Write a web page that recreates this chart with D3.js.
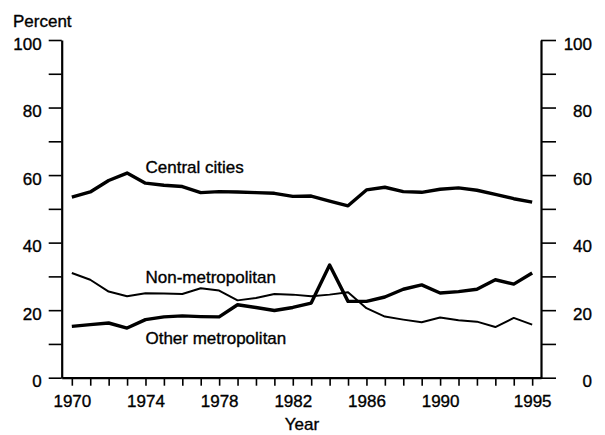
<!DOCTYPE html>
<html>
<head>
<meta charset="utf-8">
<script src="https://cdn.jsdelivr.net/npm/d3@7"></script>
<style>
    body { margin: 0; background: #fff; }
    svg text { font-family: "Liberation Sans", Arial, Helvetica, sans-serif; fill: #000; stroke: #000; stroke-width: 0.35px; }
</style>
</head>
<body>
<div id="chart"></div>
<script>
const years = d3.range(1970, 1996);
const centralCities = [53.5, 55, 58.4, 60.6, 57.6, 57, 56.6, 54.8, 55.1, 55, 54.8, 54.6, 53.7, 53.8,
    52.3, 50.9, 55.6, 56.4, 55.1, 54.9, 55.8, 56.2, 55.5, 54.3, 53, 52];
const nonMetropolitan = [31, 29, 25.5, 24.1, 25, 24.9, 24.8, 26.5, 25.8, 22.9, 23.6, 24.8, 24.6, 24.1,
    24.6, 25.3, 20.6, 18.1, 17.2, 16.4, 17.8, 17, 16.6, 15, 17.7, 15.7];
const otherMetropolitan = [15.2, 15.7, 16.2, 14.7, 17.2, 18, 18.3, 18.1, 18, 21.6, 20.8, 19.9, 20.8, 22.1,
    33.4, 22.6, 22.6, 23.9, 26.2, 27.5, 25.1, 25.5, 26.2, 29, 27.7, 31];
const yTicks = d3.range(0, 101, 10);
const xLabelYears = [1970, 1974, 1978, 1982, 1986, 1990, 1995];

const series = [
    {name: 'Central cities', values: centralCities, width: 3.4, labelYear: 1974, labelValue: 60.5},
    {name: 'Non-metropolitan', values: nonMetropolitan, width: 2, labelYear: 1974, labelValue: 28},
    {name: 'Other metropolitan', values: otherMetropolitan, width: 3.4, labelYear: 1974, labelValue: 10}
];

const width = 605, height = 435;
const plot = {left: 61.7, right: 541, top: 40, bottom: 377.7};
const fontSize = 17;

const svg = d3.select('#chart').append('svg')
    .attr('width', width)
    .attr('height', height);

const x = d3.scaleLinear()
    .domain([1969.45, 1995.48])
    .range([plot.left, plot.right]);

const y = d3.scaleLinear()
    .domain([0, 100])
    .range([plot.bottom, plot.top]);

const fmtY = d => d % 20 === 0 ? d : '';

const yAxisLeft = d3.axisLeft(y)
    .tickValues(yTicks)
    .tickFormat(fmtY)
    .tickSize(13)
    .tickSizeOuter(0)
    .tickPadding(7);

const yAxisRight = d3.axisRight(y)
    .tickValues(yTicks)
    .tickFormat(fmtY)
    .tickSize(15)
    .tickSizeOuter(0);

const xAxis = d3.axisBottom(x)
    .tickValues(years)
    .tickFormat(d => xLabelYears.includes(d) ? d : '')
    .tickSize(8)
    .tickSizeOuter(0)
    .tickPadding(9);

function styleAxis(g) {
    g.select('.domain').attr('stroke', '#000').attr('stroke-width', 2.2);
    g.selectAll('.tick line').attr('stroke', '#000').attr('stroke-width', 1.6);
    g.selectAll('.tick text').attr('font-size', fontSize).attr('fill', '#000');
}

const gLeft = svg.append('g')
    .attr('transform', `translate(${plot.left},0)`)
    .call(yAxisLeft)
    .call(styleAxis);
gLeft.selectAll('.tick text').attr('dy', 9);

const gRight = svg.append('g')
    .attr('transform', `translate(${plot.right},0)`)
    .call(yAxisRight)
    .call(styleAxis);
gRight.selectAll('.tick text')
    .attr('text-anchor', 'end')
    .attr('x', 51)
    .attr('dy', 9);

svg.append('g')
    .attr('transform', `translate(0,${plot.bottom})`)
    .call(xAxis)
    .call(styleAxis);

const line = d3.line()
    .x((d, i) => x(years[i]))
    .y(d => y(d));

svg.append('g')
    .selectAll('path')
    .data(series)
    .enter().append('path')
    .attr('d', d => line(d.values))
    .attr('fill', 'none')
    .attr('stroke', '#000')
    .attr('stroke-width', d => d.width)
    .attr('stroke-linejoin', 'round');

svg.append('g')
    .selectAll('text')
    .data(series)
    .enter().append('text')
    .attr('x', d => x(d.labelYear))
    .attr('y', d => y(d.labelValue))
    .attr('font-size', fontSize)
    .text(d => d.name);

svg.append('text')
    .attr('x', 13)
    .attr('y', 27)
    .attr('font-size', fontSize)
    .text('Percent');

svg.append('text')
    .attr('x', (x(1970) + x(1995)) / 2)
    .attr('y', 430)
    .attr('text-anchor', 'middle')
    .attr('font-size', fontSize)
    .text('Year');
</script>
</body>
</html>
